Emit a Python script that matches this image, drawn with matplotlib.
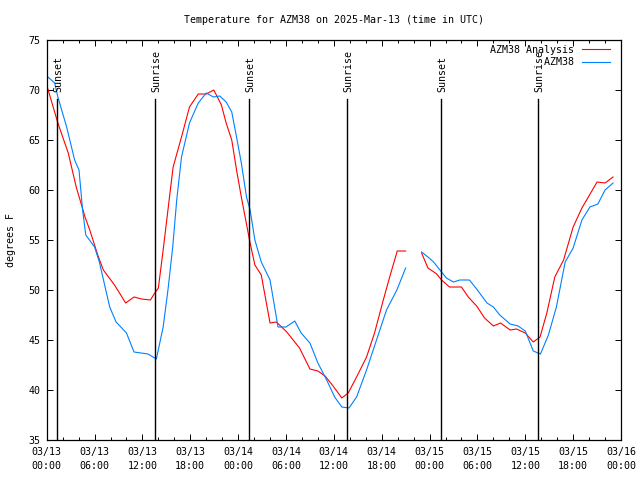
import numpy as np
import matplotlib
matplotlib.use("Agg")
import matplotlib.pyplot as plt

# ---- data (hours since 2025-03-13 00:00 UTC) ----
analysis_hours = [0, 1.4, 2.7, 3.7, 4.55, 4.8, 5.4, 6.4, 7.1, 8.5, 9.9, 10.95, 11.9, 13.0, 13.55, 14.0,
                  14.6, 15.35, 15.85, 16.9, 17.9, 19.0, 20.0, 20.95, 21.9, 22.5, 23.2, 23.8, 24.4,
                  25.5, 26.1, 26.9, 28.0, 28.8, 30.1, 31.7, 33.0, 34.0, 34.9, 35.9, 37.0, 37.8,
                  38.85, 40.1, 41.1, 42.2, 43.0, 43.95, 45.0, 46.0,
                  47.0, 47.8, 48.9, 49.5, 50.5, 52.0, 52.85, 53.9, 54.9, 56.0, 56.9, 58.1, 58.9,
                  60.0, 61.0, 61.85, 62.7, 63.7, 64.8, 66.0, 67.1, 69.0, 70.0, 71.0]
analysis_temp = [70.5, 66.7, 63.7, 60.3, 58.0, 57.3, 56.0, 53.5, 52.0, 50.5, 48.7, 49.3, 49.1, 49.0, 49.7, 50.2,
                 54.0, 59.0, 62.3, 65.3, 68.3, 69.6, 69.6, 70.0, 68.5, 66.7, 65.0, 62.0, 59.3,
                 54.7, 52.5, 51.5, 46.7, 46.8, 45.8, 44.2, 42.1, 41.9, 41.4, 40.4, 39.2, 39.7,
                 41.3, 43.3, 45.7, 49.0, 51.3, 53.9, 53.9, np.nan,
                 53.7, 52.2, 51.6, 51.0, 50.3, 50.3, 49.3, 48.4, 47.2, 46.4, 46.7, 46.0, 46.1,
                 45.7, 44.8, 45.3, 47.7, 51.3, 53.0, 56.3, 58.2, 60.8, 60.7, 61.3]

station_hours = [0, 1.0, 1.4, 2.5, 3.5, 4.05, 4.5, 4.9, 6.0, 6.6, 7.9, 8.7, 10.0, 10.95, 12.7, 13.75,
                 14.6, 15.2, 15.8, 16.3, 16.9, 17.9, 19.0, 20.0, 20.9, 21.7, 22.5, 23.2, 23.8, 24.4,
                 25.05, 25.5, 26.1, 26.9, 28.0, 29.0, 30.0, 31.1, 31.9, 33.0, 34.0, 35.1, 36.1,
                 37.0, 37.9, 38.85, 40.1, 41.35, 42.6, 43.9, 45.0, 46.0,
                 47.0, 47.8, 48.5, 49.3, 50.1, 51.0, 51.8, 53.0, 53.9, 55.2, 56.0, 56.8, 58.1,
                 59.1, 60.0, 60.6, 61.0, 61.9, 62.9, 63.9, 65.0, 66.0, 67.1, 68.1, 69.1, 70.0, 71.0]
station_temp = [71.4, 70.7, 69.3, 66.3, 63.0, 62.0, 58.0, 55.5, 54.3, 52.8, 48.3, 46.8, 45.7, 43.8, 43.6, 43.1,
                46.3, 50.0, 54.3, 59.0, 63.3, 66.7, 68.7, 69.7, 69.3, 69.4, 68.8, 67.8, 65.3, 62.7,
                59.3, 58.0, 55.0, 52.8, 51.0, 46.3, 46.3, 46.9, 45.7, 44.7, 42.7, 41.0, 39.3,
                38.3, 38.2, 39.3, 42.0, 45.0, 48.0, 50.0, 52.2, np.nan,
                53.8, 53.3, 52.8, 52.0, 51.2, 50.8, 51.0, 51.0, 50.1, 48.7, 48.3, 47.5, 46.6,
                46.4, 45.9, 44.7, 43.9, 43.6, 45.5, 48.3, 52.8, 54.2, 57.0, 58.3, 58.6, 60.0, 60.7]

sun_events = ["Sunset", "Sunrise", "Sunset", "Sunrise", "Sunset", "Sunrise"]
sun_hours = [1.28, 13.6, 25.38, 37.67, 49.46, 61.63]

tick_hours = list(range(0, 73, 6))
tick_labels = ["03/13\n00:00", "03/13\n06:00", "03/13\n12:00", "03/13\n18:00",
               "03/14\n00:00", "03/14\n06:00", "03/14\n12:00", "03/14\n18:00",
               "03/15\n00:00", "03/15\n06:00", "03/15\n12:00", "03/15\n18:00",
               "03/16\n00:00"]
yticks = [35, 40, 45, 50, 55, 60, 65, 70, 75]

# ---- figure ----
plt.rcParams['font.family'] = ['DejaVu Sans Mono']
FS = 7.2
fig = plt.figure(figsize=(6.4, 4.8), dpi=100)
ax = fig.add_axes([46.7 / 640, 1 - 440 / 480, 574.3 / 640, 400 / 480])

ax.plot(analysis_hours, analysis_temp, color='#ff0000', lw=0.8, label='AZM38 Analysis')
ax.plot(station_hours, station_temp, color='#0080ff', lw=0.8, label='         AZM38')

for name, h in zip(sun_events, sun_hours):
    ax.plot([h, h], [35, 69.1], color='black', lw=1.0)
    ax.text(h + 0.15, 69.75, name, rotation=90, ha='center', va='bottom',
            fontsize=FS, color='black')

ax.set_xlim(0, 72)
ax.set_ylim(35, 75)
ax.set_xticks(tick_hours)
ax.set_xticklabels(tick_labels, fontsize=FS, linespacing=1.5)
ax.set_xticks(range(0, 73, 2), minor=True)
ax.set_yticks(yticks)
ax.set_yticklabels([str(v) for v in yticks], fontsize=FS)
ax.tick_params(which='major', direction='in', length=4.5, width=0.7,
               top=True, right=True, pad=4.5)
ax.tick_params(which='minor', direction='in', length=2.5, width=0.7,
               top=True, right=False, left=False)
ax.tick_params(axis='x', pad=5)
for s in ax.spines.values():
    s.set_linewidth(0.9)

ax.set_title('Temperature for AZM38 on 2025-Mar-13 (time in UTC)', fontsize=FS, pad=12)
ax.set_ylabel('degrees F', fontsize=FS, va='center')
ax.yaxis.set_label_coords((11 - 46.7) / 574.3, 0.5)

leg = ax.legend(loc='upper right', bbox_to_anchor=(1 - 11 / 574.3, 1 - 5 / 400),
                frameon=False, fontsize=FS, handlelength=2.8, handletextpad=0.8,
                markerfirst=False, labelspacing=0.25, borderpad=0, borderaxespad=0)

fig.savefig('out.png', dpi=100)
